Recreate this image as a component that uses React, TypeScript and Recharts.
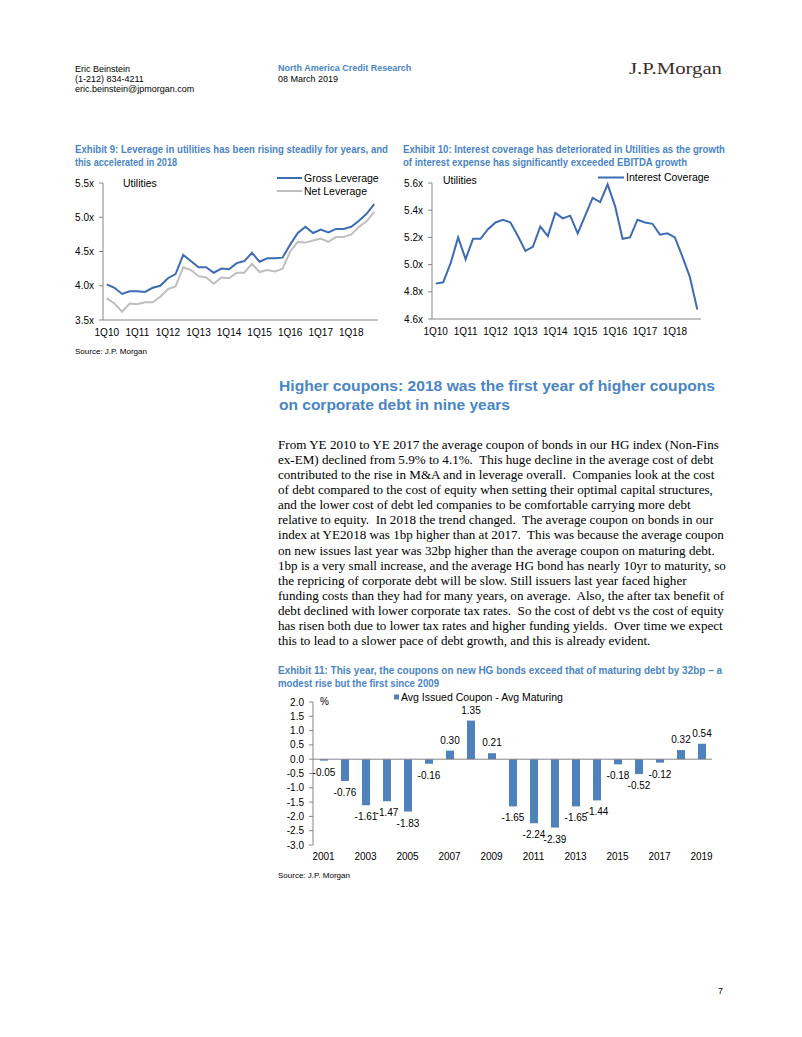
import React from 'react';
import { LineChart, Line, BarChart, Bar, XAxis, YAxis, ReferenceLine, LabelList } from 'recharts';

// Exhibit 9 / 10: quarterly utilities credit metrics
const quarters = [
  '1Q10', '2Q10', '3Q10', '4Q10', '1Q11', '2Q11', '3Q11', '4Q11',
  '1Q12', '2Q12', '3Q12', '4Q12', '1Q13', '2Q13', '3Q13', '4Q13',
  '1Q14', '2Q14', '3Q14', '4Q14', '1Q15', '2Q15', '3Q15', '4Q15',
  '1Q16', '2Q16', '3Q16', '4Q16', '1Q17', '2Q17', '3Q17', '4Q17',
  '1Q18', '2Q18', '3Q18', '4Q18',
];
const grossLeverage = [
  4.02, 3.97, 3.88, 3.92, 3.92, 3.91, 3.97, 4.0, 4.11, 4.17, 4.45, 4.36,
  4.27, 4.27, 4.19, 4.25, 4.24, 4.33, 4.36, 4.48, 4.35, 4.4, 4.4, 4.41,
  4.6, 4.77, 4.86, 4.77, 4.82, 4.78, 4.83, 4.83, 4.86, 4.95, 5.05, 5.19,
];
const netLeverage = [
  3.82, 3.74, 3.62, 3.74, 3.73, 3.76, 3.76, 3.84, 3.95, 3.99, 4.27, 4.23,
  4.14, 4.12, 4.03, 4.12, 4.11, 4.19, 4.19, 4.32, 4.2, 4.23, 4.21, 4.25,
  4.5, 4.64, 4.63, 4.66, 4.69, 4.64, 4.71, 4.71, 4.75, 4.86, 4.94, 5.08,
];
const interestCoverage = [
  4.86, 4.87, 5.01, 5.2, 5.04, 5.19, 5.19, 5.26, 5.31, 5.33, 5.31, 5.21,
  5.1, 5.13, 5.28, 5.21, 5.38, 5.34, 5.36, 5.23, 5.36, 5.49, 5.46, 5.59,
  5.43, 5.19, 5.2, 5.33, 5.31, 5.3, 5.22, 5.23, 5.2, 5.06, 4.91, 4.67,
];
const leverageTicks = [3.5, 4.0, 4.5, 5.0, 5.5];
const coverageTicks = [4.6, 4.8, 5.0, 5.2, 5.4, 5.6];

// Exhibit 11: avg issued coupon minus avg maturing coupon (%)
const years = [
  '2001', '2002', '2003', '2004', '2005', '2006', '2007', '2008', '2009', '2010',
  '2011', '2012', '2013', '2014', '2015', '2016', '2017', '2018', '2019',
];
const couponGap = [
  -0.05, -0.76, -1.61, -1.47, -1.83, -0.16, 0.3, 1.35, 0.21, -1.65,
  -2.24, -2.39, -1.65, -1.44, -0.18, -0.52, -0.12, 0.32, 0.54,
];
const couponTicks = [-3.0, -2.5, -2.0, -1.5, -1.0, -0.5, 0.0, 0.5, 1.0, 1.5, 2.0];

const paragraph = [
  'From YE 2010 to YE 2017 the average coupon of bonds in our HG index (Non-Fins',
  'ex-EM) declined from 5.9% to 4.1%.  This huge decline in the average cost of debt',
  'contributed to the rise in M&A and in leverage overall.  Companies look at the cost',
  'of debt compared to the cost of equity when setting their optimal capital structures,',
  'and the lower cost of debt led companies to be comfortable carrying more debt',
  'relative to equity.  In 2018 the trend changed.  The average coupon on bonds in our',
  'index at YE2018 was 1bp higher than at 2017.  This was because the average coupon',
  'on new issues last year was 32bp higher than the average coupon on maturing debt.',
  '1bp is a very small increase, and the average HG bond has nearly 10yr to maturity, so',
  'the repricing of corporate debt will be slow. Still issuers last year faced higher',
  'funding costs than they had for many years, on average.  Also, the after tax benefit of',
  'debt declined with lower corporate tax rates.  So the cost of debt vs the cost of equity',
  'has risen both due to lower tax rates and higher funding yields.  Over time we expect',
  'this to lead to a slower pace of debt growth, and this is already evident.',
];

const TITLE_BLUE = '#4a85c4';
const LINE_BLUE = '#3d6cb3';
const NET_GREY = '#bfbfbf';
const BAR_BLUE = '#4f81bd';
const AXIS_GREY = '#868686';
const NARROW = "'Liberation Sans Narrow', 'Arial Narrow', 'Liberation Sans', Arial, sans-serif";
const SANS = "'Liberation Sans', Arial, sans-serif";
const SERIF = "'Liberation Serif', 'Times New Roman', serif";

const leverageData = quarters.map((q, i) => ({ q, gross: grossLeverage[i], net: netLeverage[i] }));
const coverageData = quarters.map((q, i) => ({ q, cov: interestCoverage[i] }));
const couponData = years.map((year, i) => ({ year, gap: couponGap[i] }));

const tickStyle = { fontSize: 10, fill: '#000', fontFamily: NARROW };

const T = ({ x, y, size, children, weight, fill, family, anchor, len }: any) => (
  <text
    x={x}
    y={y}
    fontSize={size}
    fontWeight={weight || 'normal'}
    fill={fill || '#000'}
    fontFamily={family || SANS}
    textAnchor={anchor || 'start'}
    textLength={len}
    lengthAdjust={len ? 'spacingAndGlyphs' : undefined}
    style={{ whiteSpace: 'pre' }}
  >
    {children}
  </text>
);

const BarValueLabel = (props: any) => {
  const { x, y, width, height, value } = props;
  const top = Math.min(y, y + height);
  const bottom = Math.max(y, y + height);
  const ty = value >= 0 ? top - 7 : bottom + 15;
  return (
    <text x={x + width / 2} y={ty} textAnchor="middle" fontSize={10} fill="#000" fontFamily={NARROW}>
      {Number(value).toFixed(2)}
    </text>
  );
};

const LeverageChart = () => (
  <LineChart width={335} height={172} data={leverageData} margin={{ top: 10, right: 10, bottom: 5, left: 0 }}>
    <XAxis
      dataKey="q"
      interval={3}
      padding={{ left: 3.8, right: 3.8 }}
      axisLine={{ stroke: AXIS_GREY }}
      tickLine={false}
      tickSize={4}
      tickMargin={5}
      height={20}
      tick={tickStyle}
    />
    <YAxis
      domain={[3.5, 5.5]}
      ticks={leverageTicks}
      interval={0}
      width={50}
      axisLine={{ stroke: AXIS_GREY }}
      tickLine={{ stroke: AXIS_GREY }}
      tickSize={4}
      tickMargin={5}
      tick={tickStyle}
      tickFormatter={(v: number) => v.toFixed(1) + 'x'}
    />
    <Line dataKey="net" stroke={NET_GREY} strokeWidth={2} dot={false} isAnimationActive={false} />
    <Line dataKey="gross" stroke={LINE_BLUE} strokeWidth={2} dot={false} isAnimationActive={false} />
  </LineChart>
);

const CoverageChart = () => (
  <LineChart width={330} height={171} data={coverageData} margin={{ top: 10, right: 11, bottom: 5, left: 0 }}>
    <XAxis
      dataKey="q"
      interval={3}
      padding={{ left: 3.7, right: 3.7 }}
      axisLine={{ stroke: AXIS_GREY }}
      tickLine={false}
      tickSize={4}
      tickMargin={5}
      height={20}
      tick={tickStyle}
    />
    <YAxis
      domain={[4.6, 5.6]}
      ticks={coverageTicks}
      interval={0}
      width={50}
      axisLine={{ stroke: AXIS_GREY }}
      tickLine={{ stroke: AXIS_GREY }}
      tickSize={4}
      tickMargin={5}
      tick={tickStyle}
      tickFormatter={(v: number) => v.toFixed(1) + 'x'}
    />
    <Line dataKey="cov" stroke={LINE_BLUE} strokeWidth={2} dot={false} isAnimationActive={false} />
  </LineChart>
);

const CouponChart = () => (
  <BarChart width={454} height={178} data={couponData} margin={{ top: 10, right: 5, bottom: 5, left: 0 }}>
    <XAxis
      dataKey="year"
      interval={1}
      axisLine={false}
      tickLine={false}
      tickSize={3}
      tickMargin={5}
      height={20}
      tick={tickStyle}
    />
    <YAxis
      domain={[-3, 2]}
      ticks={couponTicks}
      interval={0}
      width={50}
      axisLine={{ stroke: AXIS_GREY }}
      tickLine={{ stroke: AXIS_GREY }}
      tickSize={4}
      tickMargin={5}
      tick={tickStyle}
      tickFormatter={(v: number) => v.toFixed(1)}
    />
    <ReferenceLine y={0} stroke={AXIS_GREY} />
    <Bar dataKey="gap" fill={BAR_BLUE} barSize={8} isAnimationActive={false}>
      <LabelList dataKey="gap" content={BarValueLabel} />
    </Bar>
  </BarChart>
);

export default function App() {
  return (
    <div style={{ position: 'absolute', left: 0, top: 0, width: 802, height: 1037, background: '#fff', overflow: 'hidden' }}>
      <div style={{ position: 'absolute', left: 53, top: 173 }}>
        <LeverageChart />
      </div>
      <div style={{ position: 'absolute', left: 382, top: 173 }}>
        <CoverageChart />
      </div>
      <div style={{ position: 'absolute', left: 263, top: 692 }}>
        <CouponChart />
      </div>

      <svg width={802} height={1037} style={{ position: 'absolute', left: 0, top: 0, pointerEvents: 'none' }}>
        {/* header */}
        <T x={75} y={71.5} size={9}>Eric Beinstein</T>
        <T x={75} y={81.5} size={9}>(1-212) 834-4211</T>
        <T x={75} y={91.5} size={9}>eric.beinstein@jpmorgan.com</T>
        <T x={278} y={70.5} size={9} weight="bold" fill={TITLE_BLUE}>North America Credit Research</T>
        <T x={278} y={81.5} size={9}>08 March 2019</T>
        <T x={629} y={74} size={17} family={SERIF} fill="#3a2f2c" len={93}>J.P.Morgan</T>

        {/* exhibit 9 & 10 titles */}
        <T x={75} y={152.5} size={11} weight="bold" fill={TITLE_BLUE} family={NARROW} len={313}>
          Exhibit 9: Leverage in utilities has been rising steadily for years, and
        </T>
        <T x={75} y={166} size={11} weight="bold" fill={TITLE_BLUE} family={NARROW} len={102}>
          this accelerated in 2018
        </T>
        <T x={403} y={152.5} size={11} weight="bold" fill={TITLE_BLUE} family={NARROW} len={322}>
          Exhibit 10: Interest coverage has deteriorated in Utilities as the growth
        </T>
        <T x={403} y={166} size={11} weight="bold" fill={TITLE_BLUE} family={NARROW} len={284}>
          of interest expense has significantly exceeded EBITDA growth
        </T>

        {/* chart annotations and legends */}
        <T x={123} y={186.5} size={10.5} family={NARROW}>Utilities</T>
        <line x1={277} y1={178} x2={302} y2={178} stroke={LINE_BLUE} strokeWidth={2} />
        <T x={304} y={181.5} size={10.5} family={NARROW}>Gross Leverage</T>
        <line x1={277} y1={191} x2={302} y2={191} stroke={NET_GREY} strokeWidth={2} />
        <T x={304} y={194.5} size={10.5} family={NARROW}>Net Leverage</T>

        <T x={443} y={184} size={10.5} family={NARROW}>Utilities</T>
        <line x1={598} y1={177.5} x2={624} y2={177.5} stroke={LINE_BLUE} strokeWidth={2} />
        <T x={626} y={181} size={10.5} family={NARROW}>Interest Coverage</T>

        <T x={75} y={353.5} size={8} family={NARROW}>Source: J.P. Morgan</T>

        {/* section heading */}
        <T x={279} y={390.5} size={15.5} weight="bold" fill={TITLE_BLUE} len={436}>
          Higher coupons: 2018 was the first year of higher coupons
        </T>
        <T x={279} y={409.5} size={15.5} weight="bold" fill={TITLE_BLUE} len={231}>
          on corporate debt in nine years
        </T>

        {paragraph.map((line, i) => (
          <T key={i} x={278} y={448.5 + i * 15.15} size={13.1} family={SERIF}>
            {line}
          </T>
        ))}

        {/* exhibit 11 */}
        <T x={278} y={673.5} size={11} weight="bold" fill={TITLE_BLUE} family={NARROW} len={444}>
          Exhibit 11: This year, the coupons on new HG bonds exceed that of maturing debt by 32bp – a
        </T>
        <T x={278} y={687} size={11} weight="bold" fill={TITLE_BLUE} family={NARROW} len={161}>
          modest rise but the first since 2009
        </T>
        <T x={320} y={704.5} size={10} family={NARROW}>%</T>
        <rect x={394} y={694.5} width={5} height={5} fill={BAR_BLUE} />
        <T x={401} y={700.5} size={10.5} family={NARROW}>Avg Issued Coupon - Avg Maturing</T>

        <T x={278} y={878} size={8} family={NARROW}>Source: J.P. Morgan</T>
        <T x={723} y={993.5} size={9} anchor="end">7</T>
      </svg>
    </div>
  );
}
